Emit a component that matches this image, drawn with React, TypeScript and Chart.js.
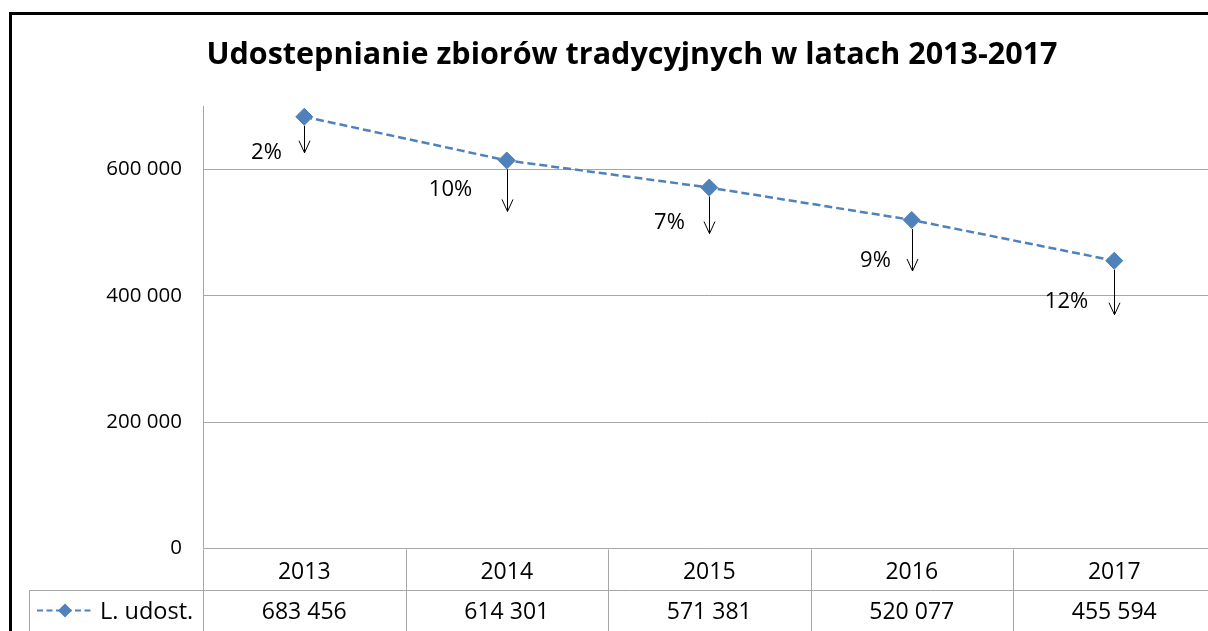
import React, { useEffect, useRef } from 'react';
import { Chart, registerables } from 'chart.js';

Chart.register(...registerables);

// ---- data ----
const years = ['2013', '2014', '2015', '2016', '2017'];
const values = [683456, 614301, 571381, 520077, 455594];
const changeLabels = ['2%', '10%', '7%', '9%', '12%'];
const yTickValues = [0, 200000, 400000, 600000];
const yMax = 700000;
const seriesName = 'L. udost.';
const chartTitle = 'Udostepnianie zbiorów tradycyjnych w latach 2013-2017';

// ---- annotation layout (pixels, relative to each point) ----
const arrowLengths = [36, 51, 46, 51, 54];
const labelOffsets: [number, number][] = [
  [-38, 34],
  [-57, 27.5],
  [-40, 34],
  [-37, 39.5],
  [-48, 39],
];

const BLUE = '#4F81BD';
const GRID = '#a6a6a6';
const FONT = "'Open Sans', 'DejaVu Sans', sans-serif";

const fmt = (v: number) => String(v).replace(/\B(?=(\d{3})+(?!\d))/g, ' ');

const overlay = {
  id: 'overlay',
  afterDraw(chart: any) {
    const ctx = chart.ctx as CanvasRenderingContext2D;
    const area = chart.chartArea;
    const xs = chart.scales.x;
    const ys = chart.scales.y;
    const colW = (area.right - area.left) / years.length;
    const tableTop = Math.round(area.bottom) + 0.5;
    const rowLine = tableTop + 41;
    const tableBottom = rowLine + 41;
    ctx.save();

    // title
    ctx.fillStyle = '#000';
    ctx.font = `bold 30.5px ${FONT}`;
    ctx.textAlign = 'center';
    ctx.textBaseline = 'alphabetic';
    ctx.fillText(chartTitle, 632, 63.5);

    // outer border
    ctx.strokeStyle = '#000';
    ctx.lineWidth = 3;
    ctx.beginPath();
    ctx.moveTo(10.5, 700);
    ctx.lineTo(10.5, 13.5);
    ctx.lineTo(1400, 13.5);
    ctx.stroke();

    // data table lines
    ctx.strokeStyle = GRID;
    ctx.lineWidth = 1;
    ctx.beginPath();
    ctx.moveTo(29.5, rowLine);
    ctx.lineTo(area.right + 20, rowLine);
    ctx.moveTo(29.5, tableBottom);
    ctx.lineTo(area.right + 20, tableBottom);
    ctx.moveTo(29.5, rowLine);
    ctx.lineTo(29.5, tableBottom);
    for (let k = 0; k <= years.length; k++) {
      const x = Math.round(area.left + k * colW) + 0.5;
      ctx.moveTo(x, tableTop);
      ctx.lineTo(x, tableBottom);
    }
    ctx.stroke();

    // table text
    ctx.fillStyle = '#000';
    ctx.font = `23px ${FONT}`;
    ctx.textAlign = 'center';
    years.forEach((y, i) => {
      const cx = xs.getPixelForValue(i);
      ctx.fillText(y, cx, tableTop + 21 + 8.2);
      ctx.fillText(fmt(values[i]), cx, rowLine + 20.5 + 8.2);
    });

    // legend key
    const ly = rowLine + 20;
    ctx.strokeStyle = BLUE;
    ctx.lineWidth = 2;
    ctx.setLineDash([6, 3.5]);
    ctx.beginPath();
    ctx.moveTo(37, ly);
    ctx.lineTo(94, ly);
    ctx.stroke();
    ctx.setLineDash([]);
    ctx.fillStyle = BLUE;
    ctx.beginPath();
    ctx.moveTo(65 - 7, ly);
    ctx.lineTo(65, ly - 7);
    ctx.lineTo(65 + 7, ly);
    ctx.lineTo(65, ly + 7);
    ctx.closePath();
    ctx.fill();
    ctx.fillStyle = '#000';
    ctx.textAlign = 'left';
    ctx.font = `23.5px ${FONT}`;
    ctx.fillText(seriesName, 100, ly + 8.2);

    // arrows and change labels
    ctx.strokeStyle = '#000';
    ctx.lineWidth = 1;
    ctx.font = `22px ${FONT}`;
    ctx.textAlign = 'center';
    values.forEach((v, i) => {
      const px = Math.round(xs.getPixelForValue(i)) + 0.5;
      const py = ys.getPixelForValue(v);
      const tip = py + arrowLengths[i];
      ctx.beginPath();
      ctx.moveTo(px, py + 9);
      ctx.lineTo(px, tip);
      ctx.moveTo(px - 5.5, tip - 12);
      ctx.lineTo(px, tip);
      ctx.lineTo(px + 5.5, tip - 12);
      ctx.stroke();
      const [dx, dy] = labelOffsets[i];
      ctx.fillText(changeLabels[i], px + dx, py + dy + 7.9);
    });

    ctx.restore();
  },
};

export default function App() {
  const ref = useRef<HTMLCanvasElement | null>(null);
  useEffect(() => {
    if (!ref.current) return;
    const chart = new Chart(ref.current, {
      type: 'line',
      data: {
        labels: years,
        datasets: [
          {
            label: seriesName,
            data: values,
            borderColor: BLUE,
            borderWidth: 2.5,
            borderDash: [8, 4],
            backgroundColor: BLUE,
            pointStyle: 'rectRot',
            pointRadius: 8.5,
            pointBorderWidth: 1,
            pointBackgroundColor: BLUE,
            pointBorderColor: BLUE,
            tension: 0,
          },
        ],
      },
      options: {
        animation: false,
        responsive: false,
        devicePixelRatio: 1,
        layout: { padding: { left: 0, top: 106.3, right: 14.5, bottom: 82.5 } },
        plugins: {
          legend: { display: false },
          title: { display: false },
          tooltip: { enabled: false },
        },
        scales: {
          x: {
            type: 'category',
            display: false,
            offset: true,
          },
          y: {
            min: 0,
            max: yMax,
            afterFit: (scale: any) => {
              scale.width = 203;
            },
            afterBuildTicks: (scale: any) => {
              scale.ticks = yTickValues.map((v) => ({ value: v }));
            },
            grid: { color: GRID, lineWidth: 1, drawTicks: false },
            border: { display: true, color: GRID, width: 1 },
            ticks: {
              padding: 21,
              color: '#000',
              font: { family: FONT, size: 20.5 },
              callback: (v: any) => fmt(Number(v)),
            },
          },
        },
      },
      plugins: [overlay],
    });
    return () => chart.destroy();
  }, []);

  return (
    <div style={{ position: 'absolute', left: 0, top: 0, width: 1208, height: 631, overflow: 'hidden', background: '#fff' }}>
      <canvas ref={ref} width={1230} height={631} style={{ display: 'block' }} />
    </div>
  );
}
